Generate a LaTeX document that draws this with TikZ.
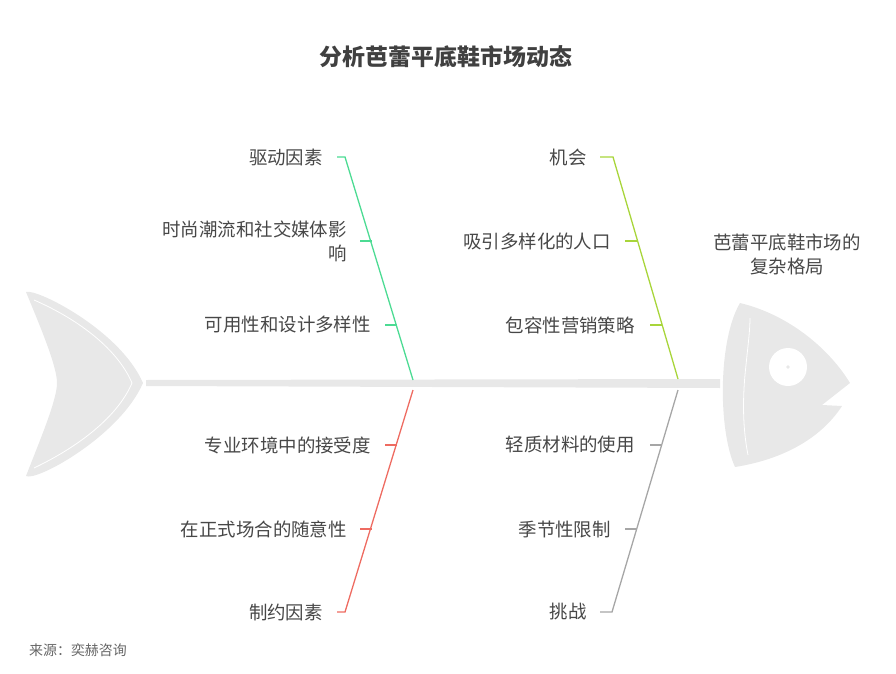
\documentclass[tikz,border=0pt]{standalone}
\usepackage{fontspec}
\setmainfont{Noto Sans CJK SC}
\begin{document}
\begin{tikzpicture}[x=1bp,y=-1bp,
  lbl/.style={font=\fontsize{18.5}{24}\selectfont, text=black!72, anchor=east, align=right, inner sep=0},
  bone/.style={line width=1.3pt},
  tick/.style={line width=1.3pt}]
\useasboundingbox (0,0) rectangle (896,674);
\definecolor{fishg}{HTML}{E8E8E8}
\definecolor{cgreen}{HTML}{4CDB93}
\definecolor{cyel}{HTML}{A8D53A}
\definecolor{cred}{HTML}{EE6B61}
\definecolor{cgray}{HTML}{A6A6A6}
\node[font=\fontsize{23}{26}\selectfont\bfseries, text=black!75] (title) at (446,57) {分析芭蕾平底鞋市场动态};
% spine
\fill[fishg] (146,380) -- (720,379) -- (720,388) -- (146,386) -- cycle;
% tail
\fill[fishg] (26,292) .. controls (36,288) and (120,330) .. (143,383)
  .. controls (120,436) and (36,482) .. (26,476)
  .. controls (40,440) and (57,400) .. (57,383)
  .. controls (57,366) and (40,326) .. cycle;
\draw[white, line width=0.8pt] (34,300) .. controls (80,320) and (118,350) .. (132,383)
  .. controls (118,416) and (80,446) .. (34,468);
% head
\fill[fishg] (740,303) .. controls (790,315) and (830,350) .. (850,383)
  -- (822,405) -- (842,406) .. controls (820,440) and (780,460) .. (735,467)
  .. controls (718,430) and (718,340) .. cycle;
\draw[white, line width=0.8pt] (746,365) .. controls (742,400) and (743,430) .. (748,455);
\draw[white, line width=0.8pt] (746,365) .. controls (748,345) and (750,330) .. (750,318);
\node[circle, fill=white, minimum size=38bp, inner sep=0] (eye) at (788,367) {};
\fill[fishg] (788,367) circle (1.8);
\node[font=\fontsize{18.5}{24}\selectfont, text=black!72, align=center] (head) at (787,254) {芭蕾平底鞋市场的\\复杂格局};
% bones
\coordinate (g0) at (413,380); \coordinate (g1) at (345,157);
\coordinate (y0) at (678,379); \coordinate (y1) at (613,157);
\coordinate (r0) at (413,390); \coordinate (r1) at (345,612);
\coordinate (k0) at (678,390); \coordinate (k1) at (612,612);
\draw[bone, cgreen] (g0) -- (g1) -- (337,157);
\draw[bone, cyel] (y0) -- (y1) -- (600,157);
\draw[bone, cred] (r0) -- (r1) -- (337,612);
\draw[bone, cgray] (k0) -- (k1) -- (600,612);
\draw[tick, cgreen] (360,241) -- (372,241);
\draw[tick, cgreen] (385,325) -- (397,325);
\draw[tick, cyel] (625,241) -- (637,241);
\draw[tick, cyel] (650,325) -- (662,325);
\draw[tick, cred] (385,445) -- (397,445);
\draw[tick, cred] (360,529) -- (372,529);
\draw[tick, cgray] (650,445) -- (662,445);
\draw[tick, cgray] (625,529) -- (637,529);
% labels
\node[lbl] (a1) at (323,157) {驱动因素};
\node[lbl] (a2) at (347,241) {时尚潮流和社交媒体影\\响};
\node[lbl] (a3) at (371,325) {可用性和设计多样性};
\node[lbl] (b1) at (587,157) {机会};
\node[lbl] (b2) at (611,241) {吸引多样化的人口};
\node[lbl] (b3) at (635,325) {包容性营销策略};
\node[lbl] (c1) at (371,445) {专业环境中的接受度};
\node[lbl] (c2) at (347,529) {在正式场合的随意性};
\node[lbl] (c3) at (323,612) {制约因素};
\node[lbl] (d1) at (635,445) {轻质材料的使用};
\node[lbl] (d2) at (611,529) {季节性限制};
\node[lbl] (d3) at (587,612) {挑战};
\node[anchor=west, font=\fontsize{14}{16}\selectfont, text=black!60, inner sep=0] (src) at (29,650) {来源：奕赫咨询};
\end{tikzpicture}
\end{document}
